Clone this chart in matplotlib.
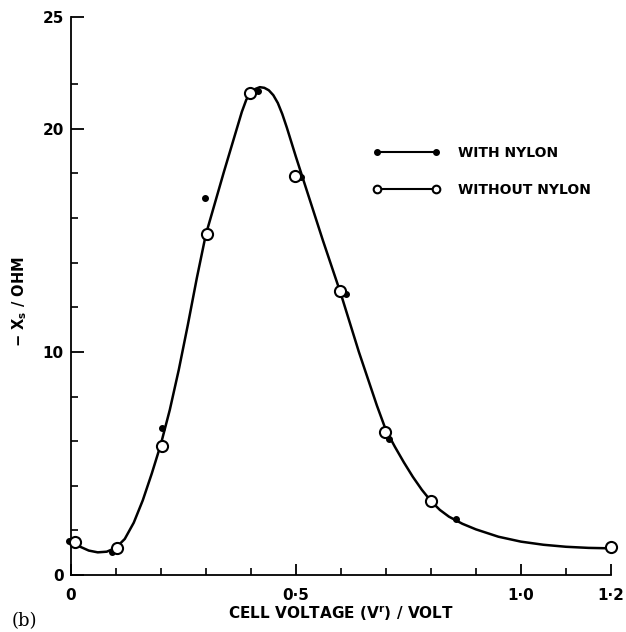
import matplotlib
matplotlib.use("Agg")
import matplotlib.pyplot as plt
from matplotlib.lines import Line2D

# measured points
v_with = [-0.004, 0.092, 0.202, 0.298, 0.416, 0.512, 0.611, 0.707, 0.855]
x_with = [1.55, 1.05, 6.6, 16.9, 21.7, 17.85, 12.6, 6.1, 2.5]

v_without = [0.01, 0.102, 0.203, 0.302, 0.399, 0.498, 0.597, 0.699, 0.801, 1.199]
x_without = [1.5, 1.22, 5.78, 15.3, 21.6, 17.9, 12.75, 6.42, 3.3, 1.24]

# hand-drawn smooth curve through both sets
curve_v = [0.0, 0.02, 0.04, 0.06, 0.08, 0.1, 0.12, 0.14, 0.16, 0.18,
           0.2, 0.22, 0.24, 0.26, 0.28, 0.3, 0.32, 0.34, 0.36, 0.38,
           0.39, 0.40, 0.41, 0.42, 0.43, 0.44, 0.45, 0.46, 0.47, 0.48,
           0.50, 0.52, 0.54, 0.56, 0.58, 0.60, 0.62, 0.64, 0.66, 0.68,
           0.70, 0.72, 0.74, 0.76, 0.78, 0.80, 0.82, 0.84, 0.87, 0.90,
           0.95, 1.0, 1.05, 1.1, 1.15, 1.2]
curve_x = [1.5, 1.28, 1.1, 1.02, 1.05, 1.22, 1.62, 2.35, 3.35, 4.55,
           5.85, 7.4, 9.2, 11.2, 13.3, 15.25, 16.65, 18.05, 19.4, 20.75,
           21.3, 21.6, 21.78, 21.86, 21.83, 21.72, 21.5, 21.15, 20.65, 20.05,
           18.75, 17.5, 16.25, 15.0, 13.8, 12.6, 11.3, 10.0, 8.8, 7.6,
           6.5, 5.75, 5.05, 4.4, 3.82, 3.32, 2.92, 2.62, 2.3, 2.05,
           1.72, 1.5, 1.36, 1.27, 1.22, 1.2]

xtick_pos = [0, 0.5, 1.0, 1.2]
xtick_lab = ["0", "0\u00b75", "1\u00b70", "1\u00b72"]
xminor = [0.1, 0.2, 0.3, 0.4, 0.6, 0.7, 0.8, 0.9, 1.1]
ytick_pos = [0, 10, 20, 25]
yminor = [2, 4, 6, 8, 12, 14, 16, 18, 22]

plt.rcParams['font.family'] = ['DejaVu Sans']
plt.rcParams['font.weight'] = 'bold'

fig = plt.figure(figsize=(6.26, 6.32), dpi=100)
ax = fig.add_axes([0.113, 0.090, 0.863, 0.883])

ax.plot(curve_v, curve_x, color='black', lw=1.8, zorder=2,
        solid_joinstyle='round', solid_capstyle='round')
ax.plot(v_with, x_with, 'o', color='black', ms=4, zorder=3, clip_on=False)
ax.plot(v_without, x_without, 'o', mfc='white', mec='black', mew=1.5,
        ms=8, zorder=4, clip_on=False)

ax.set_xlim(0, 1.2)
ax.set_ylim(0, 25)
for s in ['top', 'right']:
    ax.spines[s].set_visible(False)
for s in ['left', 'bottom']:
    ax.spines[s].set_linewidth(1.3)

ax.set_xticks(xtick_pos)
ax.set_xticklabels(xtick_lab)
ax.set_xticks(xminor, minor=True)
ax.set_yticks(ytick_pos)
ax.set_yticks(yminor, minor=True)
ax.tick_params(axis='x', which='major', direction='in', length=8, width=1.3,
               pad=9, labelsize=11)
ax.tick_params(axis='x', which='minor', direction='in', length=5, width=1.2)
ax.tick_params(axis='y', which='major', direction='in', length=9, width=1.3,
               pad=5, labelsize=11)
ax.tick_params(axis='y', which='minor', direction='in', length=5, width=1.2)

ax.set_xlabel("CELL VOLTAGE (V$^\\mathbf{r}$) / VOLT", fontsize=11,
              fontweight='bold', labelpad=1)
ax.set_ylabel("\u2212 X$_\\mathbf{s}$ / OHM", fontsize=10.5, fontweight='bold')
ax.yaxis.set_label_coords(-0.078, 0.49)

h_with = Line2D([], [], color='black', lw=1.5, marker='o', ms=4)
h_without = Line2D([], [], color='black', lw=1.5, marker='o', ms=5.5,
                   mfc='white', mec='black', mew=1.5)
ax.legend([h_with, h_without], ["WITH NYLON", "WITHOUT NYLON"],
          loc='center left', bbox_to_anchor=(0.56, 0.724), numpoints=2,
          frameon=False, borderpad=0, borderaxespad=0, handlelength=4.8,
          handletextpad=1.3, labelspacing=1.65,
          prop={'size': 10, 'weight': 'bold'})

fig.text(0.018, 0.017, "(b)", family='DejaVu Serif', fontweight='normal',
         fontsize=13, va='center', ha='left')

fig.savefig("out.png", dpi=100)
